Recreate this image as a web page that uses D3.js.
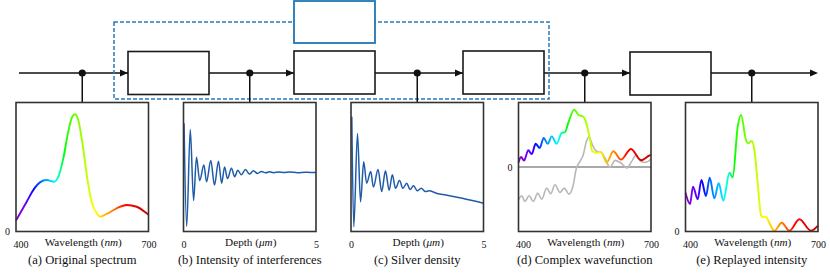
<!DOCTYPE html>
<html><head><meta charset="utf-8">
<script src="https://cdn.jsdelivr.net/npm/d3@7"></script>
<style>body{margin:0;background:#fff} svg{display:block}</style>
</head><body>
<svg id="c" width="830" height="274"></svg>
<script>
// ---------- DATA ----------
// (a) Original spectrum
const spectrumWl  = [400,424.2,439.2,454.3,469.5,486.7,495.8,507.1,518.4,526.1,533.6,541.0,551.0,561.4,571.4,582.7,590.2,605.3,628.0,650.6,673.3,695.9,700];
const spectrumVal = [0.085,0.231,0.322,0.381,0.399,0.386,0.425,0.567,0.774,0.878,0.909,0.864,0.671,0.412,0.231,0.141,0.115,0.136,0.180,0.205,0.192,0.141,0.13];
// (b) Intensity of interferences
const depthB     = [0.02,0.12,0.255,0.38,0.49,0.61,0.77,0.87,1.03,1.17,1.32,1.44,1.55,1.66,1.81,1.93,2.05,2.18,2.34,2.49,2.64,2.79,2.94,3.1,3.25,3.4,3.6,3.8,4.0,4.3,4.6,4.8,5.0];
const intensityB = [0.84,0.04,0.79,0.24,0.575,0.395,0.515,0.385,0.55,0.36,0.545,0.375,0.50,0.41,0.49,0.425,0.475,0.44,0.48,0.445,0.47,0.45,0.465,0.455,0.463,0.456,0.462,0.457,0.461,0.456,0.460,0.457,0.458];
// (c) Silver density
const depthC   = [0.03,0.105,0.245,0.36,0.48,0.59,0.745,0.845,1.02,1.16,1.30,1.44,1.56,1.68,1.83,1.96,2.10,2.23,2.36,2.50,2.65,2.81,2.94,3.25,3.58,4.20,5.0];
const densityC = [0.89,0.037,0.76,0.23,0.54,0.375,0.465,0.345,0.48,0.31,0.47,0.32,0.44,0.335,0.395,0.335,0.375,0.325,0.355,0.315,0.335,0.31,0.315,0.295,0.283,0.257,0.219];
// (d) Complex wavefunction
const wlReal = [400,405.7,412.5,422.2,429.9,438.9,448.0,457.1,466.1,475.2,486.5,497.8,505.3,512.7,526.3,535.4,546.7,554.4,561.9,567.1,577.0,586.8,599.7,614.6,632.1,654.7,677.4,695.5,700];
const realD  = [0.07,0.155,0.10,0.26,0.20,0.36,0.295,0.45,0.36,0.475,0.36,0.53,0.54,0.685,0.89,0.81,0.78,0.66,0.425,0.245,0.22,0.23,0.07,0.245,0.115,0.28,0.105,0.175,0.19];
const wlImag = [400,407.2,414.7,423.8,433.6,443.5,452.5,463.8,472.9,482.6,494,503.7,514.3,524.1,530.2,539.2,546.7,552.8,559.6,567.1,577.0,586.8,595.8,607.2,618.5,632.1,645,656.3,665.3,677.4,688,700];
const imagD  = [-0.51,-0.446,-0.535,-0.446,-0.535,-0.405,-0.50,-0.327,-0.415,-0.275,-0.395,-0.327,-0.42,-0.275,-0.042,0.087,0.19,0.373,0.467,0.347,0.243,0.227,0.14,-0.006,0.103,0.062,-0.016,0.087,0.176,0.087,0.072,0.124];
// (e) Replayed intensity
const wlE  = [400,410.2,417,427.6,436,446.4,454.8,465.4,475.2,485.8,499.4,506.9,518.2,525.7,537.0,542.4,549.9,556.0,563.5,570.9,576.4,582.3,588.4,601.3,617.8,635.2,657.9,684.1,700];
const valE = [0.30,0.213,0.347,0.25,0.40,0.275,0.417,0.257,0.374,0.239,0.456,0.42,0.812,0.903,0.709,0.684,0.702,0.632,0.374,0.128,0.11,0.115,0.076,0.006,0.068,0.006,0.095,0.006,0.045];

const captions = ["(a) Original spectrum","(b) Intensity of interferences","(c) Silver density","(d) Complex wavefunction","(e) Replayed intensity"];
const wlTicks = [400,700];
const depthTicks = [0,5];

// ---------- LAYOUT ----------
const svg = d3.select('#c');
const FONT = '"Liberation Serif","Times New Roman",serif';
const lineY = 73;
const pTop = 102.5, pBot = 231.5, pW = 132.5;
const pLefts = [16,183.5,351,518.5,685.5];
const blocks = [[128,209,51.5,94.5],[294,375,51,94],[463,544,51,94],[630,711,52,95]];
const ink = "#111";

function wlColor(w){
  let r,g,b;
  if(w<440){r=-(w-440)/60;g=0;b=1;}
  else if(w<490){r=0;g=(w-440)/50;b=1;}
  else if(w<510){r=0;g=1;b=-(w-510)/20;}
  else if(w<580){r=(w-510)/70;g=1;b=0;}
  else if(w<645){r=1;g=-(w-645)/65;b=0;}
  else {r=1;g=0;b=0;}
  const f = w<420 ? 0.3+0.7*(w-380)/40 : (w>650 ? 1-0.3*(w-650)/50 : 1);
  const c = v => Math.round(255*Math.pow(Math.max(0,v*f),0.8));
  return `rgb(${c(r)},${c(g)},${c(b)})`;
}

const defs = svg.append('defs');

// ---------- DIAGRAM ----------
svg.append('line').attr('x1',19).attr('x2',812).attr('y1',lineY).attr('y2',lineY)
  .attr('stroke',ink).attr('stroke-width',1.5);

svg.append('rect').attr('x',114).attr('y',22).attr('width',549-114).attr('height',99-22)
  .attr('fill','none').attr('stroke','#2a7ab8').attr('stroke-width',1.5).attr('stroke-dasharray','4,2');

blocks.forEach(b=>{
  svg.append('rect').attr('x',b[0]).attr('y',b[2]).attr('width',b[1]-b[0]).attr('height',b[3]-b[2])
    .attr('fill','#fff').attr('stroke','#1a1a1a').attr('stroke-width',1.6);
});
svg.append('rect').attr('x',294).attr('y',1).attr('width',81).attr('height',42)
  .attr('fill','#fff').attr('stroke','#1f77b4').attr('stroke-width',1.8);

[128,294,463,630,818].forEach(x=>{
  svg.append('path').attr('d',`M${x},${lineY} L${x-8},${lineY-3.6} L${x-8},${lineY+3.6} Z`).attr('fill',ink);
});

// ---------- PANELS ----------
const line = (xs,ys,X,Y)=> d3.line().x((d,i)=>X(xs[i])).y((d,i)=>Y(ys[i])).curve(d3.curveMonotoneX)(xs);

function panel(i){
  const L = pLefts[i], cx = L+pW/2;
  svg.append('line').attr('x1',cx).attr('x2',cx).attr('y1',lineY).attr('y2',pTop)
    .attr('stroke',ink).attr('stroke-width',1.5);
  svg.append('circle').attr('cx',cx).attr('cy',lineY).attr('r',3.6).attr('fill',ink);
  const g = svg.append('g');
  g.append('rect').attr('x',L).attr('y',pTop).attr('width',pW).attr('height',pBot-pTop).attr('fill','#fff');
  return {g,L,cx};
}

function spectralGrad(id,X){
  const gr = defs.append('linearGradient').attr('id',id).attr('gradientUnits','userSpaceOnUse')
    .attr('x1',X(400)).attr('x2',X(700)).attr('y1',0).attr('y2',0);
  d3.range(400,701,5).forEach(w=>{
    gr.append('stop').attr('offset',(w-400)/300).attr('stop-color',wlColor(w));
  });
  return `url(#${id})`;
}

function border(g,L){
  g.append('rect').attr('x',L).attr('y',pTop).attr('width',pW).attr('height',pBot-pTop)
    .attr('fill','none').attr('stroke','#333').attr('stroke-width',1.6);
}

function xAxis(g,X,ticks,title,italic,cx,caption,shift400){
  const ax = g.append('g').attr('transform',`translate(0,${pBot})`)
    .call(d3.axisBottom(X).tickValues(ticks).tickSize(0).tickPadding(9).tickFormat(d3.format('d')));
  ax.attr('font-family',null);
  ax.select('.domain').remove();
  ax.selectAll('text').style('font-family',FONT).attr('font-size',10).attr('fill',ink)
    .attr('dx',(d,i)=> (shift400 && i===0)?4.5:0);
  const t = g.append('text').attr('x',cx+1).attr('y',pBot+14).attr('text-anchor','middle')
    .style('font-family',FONT).attr('font-size',11.2).attr('fill',ink);
  t.append('tspan').text(title+' (');
  t.append('tspan').attr('font-style','italic').text(italic);
  t.append('tspan').text(')');
  g.append('text').attr('x',cx).attr('y',pBot+32.5).attr('text-anchor','middle')
    .style('font-family',FONT).attr('font-size',12.6).attr('fill',ink).text(caption);
}
function yZero(g,Y,L){
  const ax = g.append('g').attr('transform',`translate(${L},0)`)
    .call(d3.axisLeft(Y).tickValues([0]).tickSize(0).tickPadding(6).tickFormat(d3.format('d')));
  ax.attr('font-family',null);
  ax.select('.domain').remove();
  ax.selectAll('text').style('font-family',FONT).attr('font-size',10).attr('fill',ink);
}

// (a)
{
  const {g,L,cx} = panel(0);
  const X = d3.scaleLinear().domain([400,700]).range([L,L+pW]);
  const Y = d3.scaleLinear().domain([0,1]).range([pBot,pTop]);
  g.append('path').attr('d',line(spectrumWl,spectrumVal,X,Y)).attr('fill','none')
    .attr('stroke',spectralGrad('ga',X)).attr('stroke-width',1.9);
  border(g,L);
  xAxis(g,X,wlTicks,'Wavelength','nm',cx,captions[0],true);
  yZero(g,Y,L);
}
// (b)
{
  const {g,L,cx} = panel(1);
  const X = d3.scaleLinear().domain([0,5]).range([L,L+pW]);
  const Y = d3.scaleLinear().domain([0,1]).range([pBot,pTop]);
  g.append('path').attr('d',line(depthB,intensityB,X,Y)).attr('fill','none')
    .attr('stroke','#1f5ca8').attr('stroke-width',1.5);
  border(g,L);
  xAxis(g,X,depthTicks,'Depth','μm',cx,captions[1],false);
}
// (c)
{
  const {g,L,cx} = panel(2);
  const X = d3.scaleLinear().domain([0,5]).range([L,L+pW]);
  const Y = d3.scaleLinear().domain([0,1]).range([pBot,pTop]);
  g.append('path').attr('d',line(depthC,densityC,X,Y)).attr('fill','none')
    .attr('stroke','#1f5ca8').attr('stroke-width',1.5);
  border(g,L);
  xAxis(g,X,depthTicks,'Depth','μm',cx,captions[2],false);
}
// (d)
{
  const {g,L,cx} = panel(3);
  const X = d3.scaleLinear().domain([400,700]).range([L,L+pW]);
  const Y = d3.scaleLinear().domain([-1,1]).range([pBot,pTop]);
  g.append('line').attr('x1',L).attr('x2',L+pW).attr('y1',Y(0)).attr('y2',Y(0))
    .attr('stroke','#555').attr('stroke-width',1.1);
  g.append('path').attr('d',line(wlImag,imagD,X,Y)).attr('fill','none')
    .attr('stroke','#b8b8b8').attr('stroke-width',1.6);
  g.append('path').attr('d',line(wlReal,realD,X,Y)).attr('fill','none')
    .attr('stroke',spectralGrad('gd',X)).attr('stroke-width',1.9);
  border(g,L);
  xAxis(g,X,wlTicks,'Wavelength','nm',cx,captions[3],true);
  yZero(g,Y,L);
}
// (e)
{
  const {g,L,cx} = panel(4);
  const X = d3.scaleLinear().domain([400,700]).range([L,L+pW]);
  const Y = d3.scaleLinear().domain([0,1]).range([pBot,pTop]);
  g.append('path').attr('d',line(wlE,valE,X,Y)).attr('fill','none')
    .attr('stroke',spectralGrad('ge',X)).attr('stroke-width',1.9);
  border(g,L);
  xAxis(g,X,wlTicks,'Wavelength','nm',cx,captions[4],true);
  yZero(g,Y,L);
}
</script>
</body></html>
